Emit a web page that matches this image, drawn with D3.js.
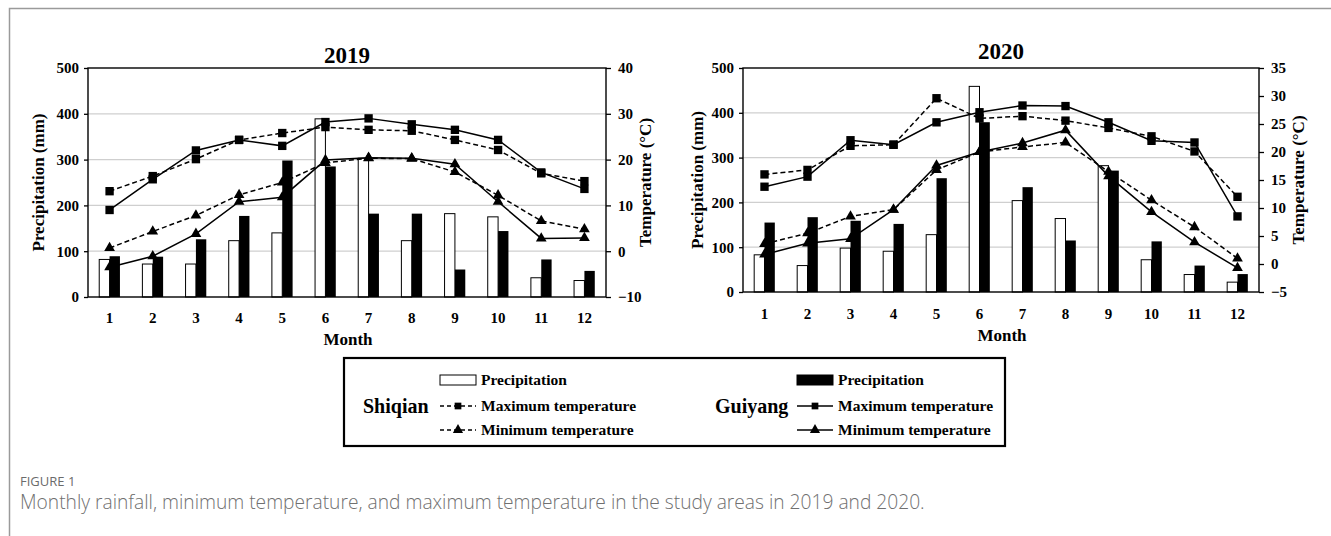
<!DOCTYPE html>
<html lang="en">
<head>
<meta charset="utf-8" />
<title>Monthly rainfall and temperature, Shiqian and Guiyang</title>
<script src="https://cdn.jsdelivr.net/npm/d3@7"></script>
<style>
  body { margin: 0; background: #fff; }
  svg text { font-family: "Liberation Serif", "Times New Roman", serif; font-weight: bold; fill: #000; }
  svg text.cap { font-family: "Open Sans", sans-serif; font-weight: 300; }
</style>
</head>
<body>
<div id="my_dataviz"></div>
<script>
const months = [1, 2, 3, 4, 5, 6, 7, 8, 9, 10, 11, 12];
const precipTicks = [0, 100, 200, 300, 400, 500];
const gridValues = [100, 200, 300, 400];

// 2019
const shiqianPrecip2019 = [82, 72, 72, 123, 140, 389, 303, 123, 182, 175, 42, 36];
const guiyangPrecip2019 = [89, 88, 126, 177, 298, 285, 182, 182, 60, 144, 82, 57];
const shiqianMax2019 = [13.1, 16.4, 20.1, 24.3, 25.8, 27.1, 26.5, 26.3, 24.3, 22.1, 17, 15.3];
const guiyangMax2019 = [9, 15.7, 22, 24.3, 23, 28.2, 29, 27.7, 26.5, 24.3, 17.2, 13.6];
const shiqianMin2019 = [0.7, 4.3, 7.8, 12.3, 15, 19.3, 20.3, 20.2, 17.3, 12.2, 6.6, 4.8];
const guiyangMin2019 = [-3.5, -1.1, 3.8, 10.8, 11.8, 19.9, 20.4, 20.3, 19, 10.8, 2.8, 2.9];
const tempTicks2019 = [-10, 0, 10, 20, 30, 40];

// 2020
const shiqianPrecip2020 = [83, 59, 98, 91, 128, 459, 204, 164, 282, 72, 39, 22];
const guiyangPrecip2020 = [155, 167, 159, 152, 254, 379, 234, 115, 271, 113, 59, 40];
const shiqianMax2020 = [16, 16.8, 21.1, 21.3, 29.6, 26, 26.4, 25.6, 24.3, 22.8, 20.1, 12];
const guiyangMax2020 = [13.8, 15.6, 22.1, 21.3, 25.3, 27.1, 28.3, 28.2, 25.3, 22, 21.7, 8.5];
const shiqianMin2020 = [3.6, 5.5, 8.5, 9.7, 16.8, 20, 20.9, 21.7, 16.5, 11.4, 6.6, 1.0];
const guiyangMin2020 = [1.7, 3.7, 4.5, 9.7, 17.6, 20, 21.6, 23.9, 15.7, 9.3, 3.9, -0.7];
const tempTicks2020 = [-5, 0, 5, 10, 15, 20, 25, 30, 35];

const svg = d3.select("#my_dataviz")
  .append("svg")
    .attr("width", 1331)
    .attr("height", 536);

// figure frame (top + left)
svg.append("path")
  .attr("d", "M9.5,536 V8.5 H1331")
  .attr("fill", "none")
  .attr("stroke", "#9a9a9a")
  .attr("stroke-width", 1.5);

function drawChart(c) {
  const width = c.right - c.left,
        height = c.bottom - c.top;
  const g = svg.append("g")
    .attr("transform", `translate(${c.left}, ${c.top})`);

  const x = d3.scaleBand().domain(months).range([0, width]);
  const yP = d3.scaleLinear().domain([0, 500]).range([height, 0]);
  const yT = d3.scaleLinear().domain(d3.extent(c.tempTicks)).range([height, 0]);
  const cx = (d, i) => x(months[i]) + x.bandwidth() / 2;
  const bw = x.bandwidth() * 0.24;

  // gridlines
  g.append("g").selectAll("line")
    .data(gridValues)
    .join("line")
      .attr("x1", 0).attr("x2", width)
      .attr("y1", d => yP(d)).attr("y2", d => yP(d))
      .attr("stroke", "#cfcfcf")
      .attr("stroke-width", 1.3);

  // precipitation bars
  g.append("g").selectAll("rect")
    .data(c.shiqianP)
    .join("rect")
      .attr("x", (d, i) => cx(d, i) - bw)
      .attr("y", d => yP(d))
      .attr("width", bw)
      .attr("height", d => height - yP(d))
      .attr("fill", "#fff")
      .attr("stroke", "#000")
      .attr("stroke-width", 1);
  g.append("g").selectAll("rect")
    .data(c.guiyangP)
    .join("rect")
      .attr("x", (d, i) => cx(d, i))
      .attr("y", d => yP(d))
      .attr("width", bw)
      .attr("height", d => height - yP(d))
      .attr("fill", "#000");

  // temperature lines
  const line = d3.line().x(cx).y(d => yT(d));
  const series = [
    {v: c.shiqianMax, dash: "5,3", sym: d3.symbolSquare, size: 70},
    {v: c.shiqianMin, dash: "5,3", sym: d3.symbolTriangle, size: 50},
    {v: c.guiyangMax, dash: null, sym: d3.symbolSquare, size: 70},
    {v: c.guiyangMin, dash: null, sym: d3.symbolTriangle, size: 50}
  ];
  series.forEach(s => {
    g.append("path")
      .datum(s.v)
      .attr("d", line)
      .attr("fill", "none")
      .attr("stroke", "#000")
      .attr("stroke-width", 1.5)
      .attr("stroke-dasharray", s.dash);
    g.append("g").selectAll("path")
      .data(s.v)
      .join("path")
        .attr("transform", (d, i) => `translate(${cx(d, i)}, ${yT(d)})`)
        .attr("d", d3.symbol(s.sym, s.size))
        .attr("fill", "#000");
  });

  // frame
  g.append("rect")
    .attr("width", width)
    .attr("height", height)
    .attr("fill", "none")
    .attr("stroke", "#000")
    .attr("stroke-width", 1.4);

  // axes
  g.append("g")
    .call(d3.axisLeft(yP).tickValues(precipTicks).tickSize(4).tickPadding(5))
    .call(a => a.select(".domain").remove())
    .call(a => a.selectAll("text").style("font-size", "15px"));
  g.append("g")
    .attr("transform", `translate(${width}, 0)`)
    .call(d3.axisRight(yT).tickValues(c.tempTicks).tickSize(5).tickPadding(7))
    .call(a => a.select(".domain").remove())
    .call(a => a.selectAll("text").style("font-size", "15px"));
  g.append("g")
    .attr("transform", `translate(0, ${height})`)
    .call(d3.axisBottom(x).tickSize(0).tickPadding(c.xPad))
    .call(a => a.select(".domain").remove())
    .call(a => a.selectAll("text").style("font-size", "15px"));
  g.selectAll(".tick line").attr("stroke", "#000").attr("stroke-width", 1.3);

  // labels
  svg.append("text")
    .attr("x", (c.left + c.right) / 2)
    .attr("y", c.titleY)
    .attr("text-anchor", "middle")
    .style("font-size", "23px")
    .text(c.title);
  svg.append("text")
    .attr("x", (c.left + c.right) / 2 + 1)
    .attr("y", c.monthY)
    .attr("text-anchor", "middle")
    .style("font-size", "17px")
    .text("Month");
  svg.append("text")
    .attr("transform", `translate(${c.left - c.yTitleOff}, ${(c.top + c.bottom) / 2}) rotate(-90)`)
    .attr("text-anchor", "middle")
    .attr("dy", "0.35em")
    .style("font-size", "17px")
    .text("Precipitation (mm)");
  svg.append("text")
    .attr("transform", `translate(${c.right + 39}, ${(c.top + c.bottom) / 2}) rotate(-90)`)
    .attr("text-anchor", "middle")
    .attr("dy", "0.35em")
    .style("font-size", "17px")
    .text("Temperature (\u00B0C)");
}

drawChart({
  title: "2019", left: 88, right: 606, top: 68, bottom: 297,
  titleY: 63, monthY: 345, xPad: 15, yTitleOff: 50, tempTicks: tempTicks2019,
  shiqianP: shiqianPrecip2019, guiyangP: guiyangPrecip2019,
  shiqianMax: shiqianMax2019, guiyangMax: guiyangMax2019,
  shiqianMin: shiqianMin2019, guiyangMin: guiyangMin2019
});
drawChart({
  title: "2020", left: 743, right: 1259, top: 68, bottom: 292,
  titleY: 59, monthY: 341, xPad: 16, yTitleOff: 46, tempTicks: tempTicks2020,
  shiqianP: shiqianPrecip2020, guiyangP: guiyangPrecip2020,
  shiqianMax: shiqianMax2020, guiyangMax: guiyangMax2020,
  shiqianMin: shiqianMin2020, guiyangMin: guiyangMin2020
});

// legend
const legend = svg.append("g");
legend.append("rect")
  .attr("x", 344).attr("y", 358)
  .attr("width", 661).attr("height", 88)
  .attr("fill", "none")
  .attr("stroke", "#000")
  .attr("stroke-width", 2.2);

const legendRows = [
  {site: 0, row: 0, kind: "bar", fill: "#fff", label: "Precipitation"},
  {site: 0, row: 1, kind: "line", dash: "4,3", sym: d3.symbolSquare, label: "Maximum temperature"},
  {site: 0, row: 2, kind: "line", dash: "4,3", sym: d3.symbolTriangle, label: "Minimum temperature"},
  {site: 1, row: 0, kind: "bar", fill: "#000", label: "Precipitation"},
  {site: 1, row: 1, kind: "line", dash: null, sym: d3.symbolSquare, label: "Maximum temperature"},
  {site: 1, row: 2, kind: "line", dash: null, sym: d3.symbolTriangle, label: "Minimum temperature"}
];
const siteX = [440, 797];
const rowY = [380, 406, 430];

legend.selectAll("text.site")
  .data(["Shiqian", "Guiyang"])
  .join("text")
    .attr("class", "site")
    .attr("x", (d, i) => [363, 715][i])
    .attr("y", rowY[1])
    .attr("dy", "0.33em")
    .style("font-size", "20px")
    .text(d => d);

legendRows.forEach(r => {
  const x0 = siteX[r.site], y0 = rowY[r.row];
  if (r.kind === "bar") {
    legend.append("rect")
      .attr("x", x0).attr("y", y0 - 5)
      .attr("width", 36).attr("height", 10)
      .attr("fill", r.fill)
      .attr("stroke", "#000")
      .attr("stroke-width", 1);
  } else {
    legend.append("line")
      .attr("x1", x0).attr("x2", x0 + 36)
      .attr("y1", y0).attr("y2", y0)
      .attr("stroke", "#000")
      .attr("stroke-width", 1.5)
      .attr("stroke-dasharray", r.dash);
    legend.append("path")
      .attr("transform", `translate(${x0 + 18}, ${y0})`)
      .attr("d", d3.symbol(r.sym, 45))
      .attr("fill", "#000");
  }
  legend.append("text")
    .attr("x", x0 + 41)
    .attr("y", y0)
    .attr("dy", "0.33em")
    .style("font-size", "15.5px")
    .text(r.label);
});

// caption
svg.append("text")
  .attr("class", "cap")
  .attr("x", 20).attr("y", 486)
  .style("font-size", "13px")
  .style("font-weight", "normal")
  .style("fill", "#6b6b6b")
  .text("FIGURE 1");
svg.append("text")
  .attr("class", "cap")
  .attr("x", 20).attr("y", 509)
  .style("font-size", "19.2px")
  .style("fill", "#707070")
  .text("Monthly rainfall, minimum temperature, and maximum temperature in the study areas in 2019 and 2020.");
</script>
</body>
</html>
